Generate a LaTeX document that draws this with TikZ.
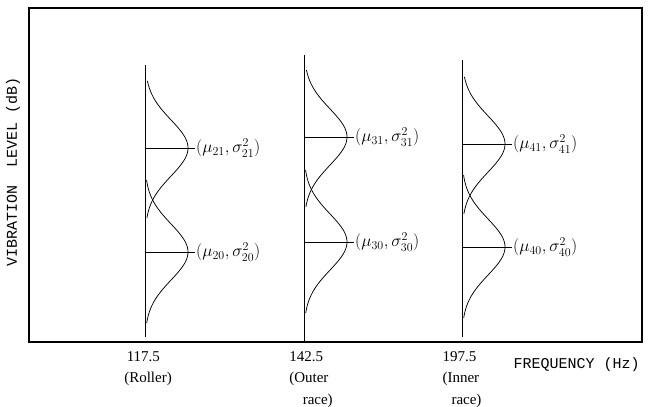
\documentclass[tikz,border=0pt]{standalone}
\usepackage{fontspec}
\setmainfont{Liberation Serif}
\setmonofont{Liberation Mono}
\usepackage{amsmath}
\usetikzlibrary{calc}

\begin{document}
\begin{tikzpicture}[x=1pt,y=-1pt,
    frame/.style={line width=1.3pt},
    gauss/.style={line width=0.75pt, variable=\t, samples=70, smooth},
    meanlabel/.style={anchor=west, inner sep=1pt, font=\fontsize{17}{20}\selectfont},
    freqlabel/.style={anchor=north, align=left, inner sep=0pt, font=\fontsize{15}{21.5}\selectfont},
    axislabel/.style={font=\ttfamily\fontsize{15}{18}\selectfont}]
    \useasboundingbox (0,0) rectangle (657,407);

    % --- Cadre du graphe ---
    \coordinate (O) at (29,342);
    \coordinate (T) at (642,8);
    \draw[frame] (O) rectangle (T);

    % --- Titres des axes ---
    \node[axislabel, rotate=90] (ylab) at (13,172) {VIBRATION\ \ LEVEL (dB)};
    \node[axislabel, anchor=west] (xlab) at (510,365) {FREQUENCY (Hz)};

    % --- Trois fréquences : axe, deux gaussiennes, moyennes ---
    % \px = abscisse, \yt/\yb = bouts de l'axe, \ma/\mb = moyennes (haut/bas)
    \foreach \px/\yt/\yb/\ma/\mb/\n in {145/65/337/148/252/2, 304/55/342/137/242/3, 462/60/337/144/247/4}{
        \coordinate (top\n) at (\px,\yt);
        \coordinate (bot\n) at (\px,\yb);
        \draw[line width=0.7pt] (top\n) -- (bot\n);
        % gaussiennes
        \draw[gauss, domain=-67:70] plot ({\px+43*exp(-0.5*\t*\t/784)}, {\ma+\t});
        \draw[gauss, domain=-72:71] plot ({\px+43*exp(-0.5*\t*\t/784)}, {\mb+\t});
        % (mu, sigma^2)
        \coordinate (m\n1) at (\px,\ma);
        \coordinate (m\n0) at (\px,\mb);
        \node[meanlabel] (lab\n1) at (\px+50,\ma) {$(\mu_{\n1},\sigma^2_{\n1})$};
        \node[meanlabel] (lab\n0) at (\px+50,\mb) {$(\mu_{\n0},\sigma^2_{\n0})$};
        \draw[line width=1pt] (m\n1) -- (lab\n1.west);
        \draw[line width=1pt] (m\n0) -- (lab\n0.west);
    }

    % --- Valeurs des fréquences ---
    \node[freqlabel] (f2) at (148,351) {\,117.5\\(Roller)};
    \node[freqlabel] (f3) at (311,351) {142.5\\(Outer\\\hspace{0.9em}race)};
    \node[freqlabel] (f4) at (462,351) {197.5\\(Inner\\\hspace{0.6em}race)};

\end{tikzpicture}
\end{document}
